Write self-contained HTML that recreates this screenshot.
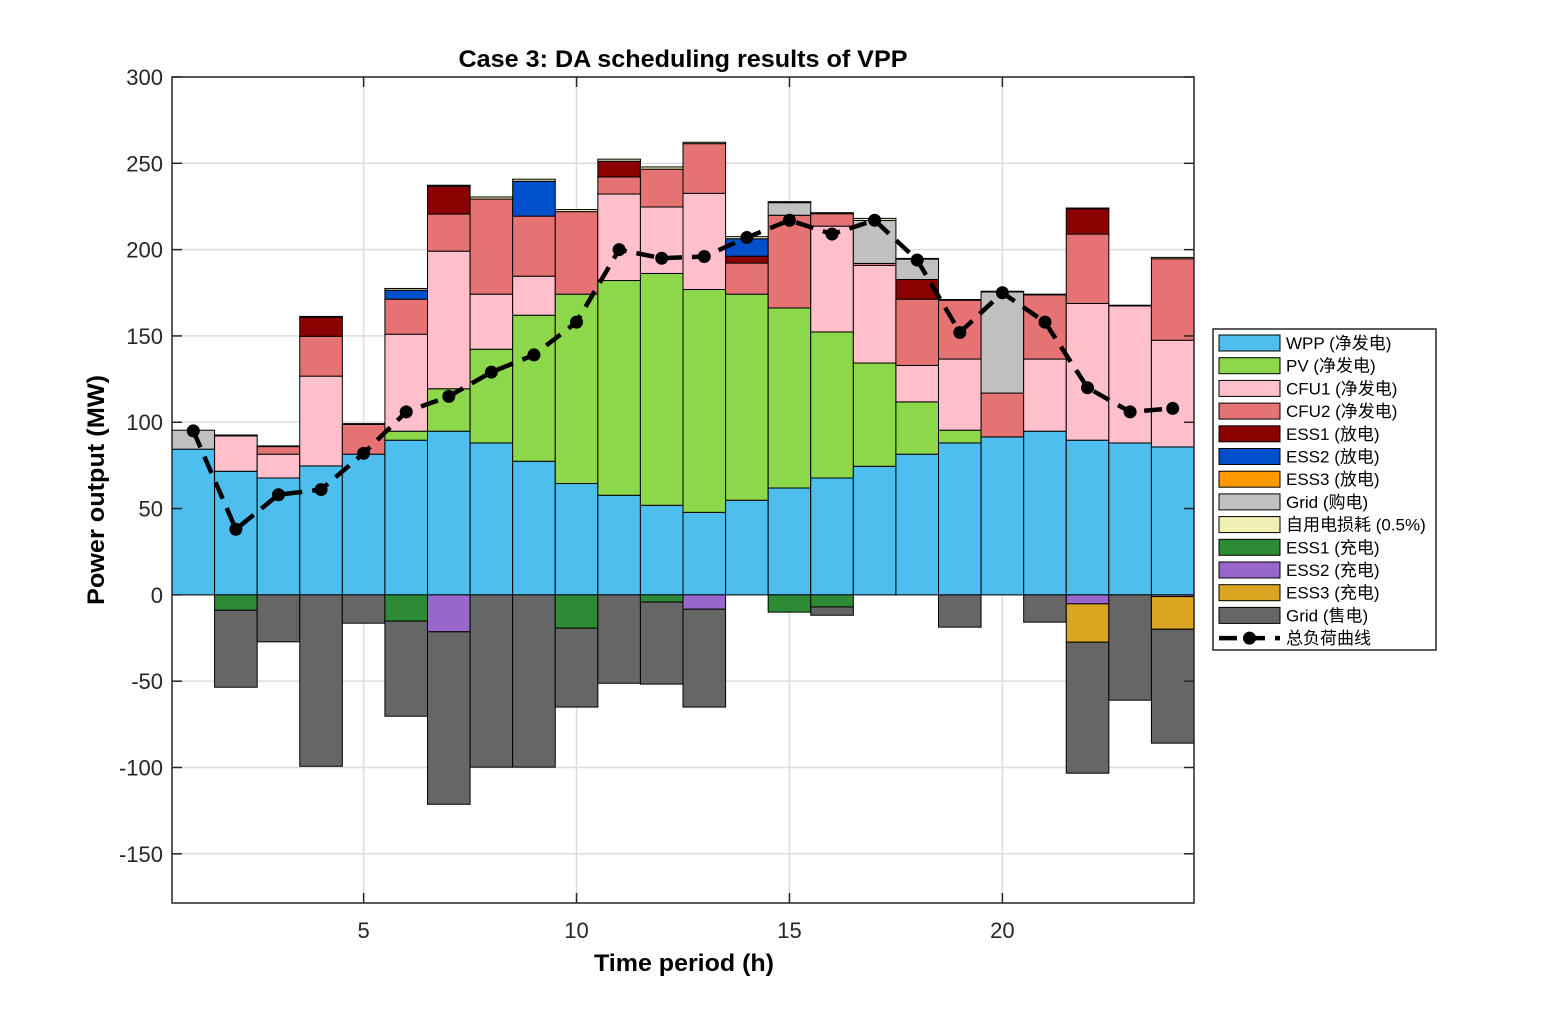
<!DOCTYPE html>
<html><head><meta charset="utf-8">
<style>
html,body{margin:0;padding:0;background:#fff;}
svg{display:block;font-family:"Liberation Sans","Noto Sans CJK SC",sans-serif;}
</style></head>
<body>
<svg id="chart" width="1563" height="1016" viewBox="0 0 1563 1016" xmlns="http://www.w3.org/2000/svg">
<rect x="0" y="0" width="1563" height="1016" fill="#fff"/>
<g id="grid"></g>
<g id="bars"></g>
<g id="line"></g>
<g id="axes"></g>
<text x="683" y="67" text-anchor="middle" font-size="24" font-weight="bold" textLength="449" lengthAdjust="spacingAndGlyphs">Case 3: DA scheduling results of VPP</text>
<text x="684" y="971" text-anchor="middle" font-size="24" font-weight="bold" textLength="180" lengthAdjust="spacingAndGlyphs">Time period (h)</text>
<text transform="translate(104,490) rotate(-90)" text-anchor="middle" font-size="24" font-weight="bold" textLength="230" lengthAdjust="spacingAndGlyphs">Power output (MW)</text>
<g id="legend"></g>
</svg>
<script>
const hours = [1,2,3,4,5,6,7,8,9,10,11,12,13,14,15,16,17,18,19,20,21,22,23,24];
const wpp   = [84.4,71.6,67.7,74.7,81.5,89.6,94.8,88,77.4,64.5,57.7,51.9,47.8,54.8,61.9,67.7,74.5,81.5,88,91.5,94.8,89.6,88,85.7];
const pv    = [0,0,0,0,0,5.2,24.6,54.3,84.6,109.7,124.4,134.3,129.1,119.4,104.3,84.6,59.8,30.3,7.4,0,0,0,0,0];
const cfu1  = [0,20.5,13.8,52,0,56.2,79.7,31.9,22.6,0,50.1,38.5,55.7,0,0,61.3,56.5,21.1,41.2,0,41.8,79.2,79.4,61.8];
const cfu2  = [0,0,4.4,23.1,17.2,20.3,21.5,55.1,34.8,47.8,9.9,21.9,28.8,18,53.7,7.2,1.2,38.4,34.1,25.4,37.2,40.2,0,47.2];
const ess1d = [0,0,0,11,0,0,16.1,0,0,0,9.1,0,0,4,0,0,0,11.4,0,0,0,14.7,0,0];
const ess2d = [0,0,0,0,0,5.2,0,0,20.2,0,0,0,0,10.1,0,0,0,0,0,0,0,0,0,0];
const ess3d = [0,0,0,0,0,0,0,0,0,0,0,0,0,0,0,0,0,0,0,0,0,0,0,0];
const gridBuy = [11,0,0,0,0,0,0,0,0,0,0,0,0,0,7.3,0,24.9,11.8,0,58.6,0,0,0,0];
const selfUse = [0,0.5,0.4,0.5,0.5,1,0.6,1.2,1.2,1.2,1.2,1.3,0.8,1.2,0.6,0.6,1.2,0.4,0.4,0.4,0.4,0.4,0.4,0.8];
const ess1c = [0,-8.9,0,0,0,-15.2,0,0,0,-19.3,0,-4.2,0,0,-10,-7,0,0,0,0,0,0,0,0];
const ess2c = [0,0,0,0,0,0,-21.4,0,0,0,0,0,-8.3,0,0,0,0,0,0,0,0,-5.2,0,-1];
const ess3c = [0,0,0,0,0,0,0,0,0,0,0,0,0,0,0,0,0,0,0,0,0,-22.2,0,-18.9];
const gridSell = [0,-44.6,-27.2,-99.3,-16.4,-55.1,-99.9,-99.8,-99.8,-45.7,-51.2,-47.5,-56.7,0,0,-4.8,0,0,-18.7,0,-15.8,-75.9,-61,-66];
const load  = [95,38,58,61,82,106,115,129,139,158,200,195,196,207,217,209,217,194,152,175,158,120,106,108];
const yTicks = [-150,-100,-50,0,50,100,150,200,250,300];
const xTicks = [5,10,15,20];

const X0=172, X1=1194, XMIN=0.5, XMAX=24.5;
const YTOP=77, YBOT=903, VMAX=300, VMIN=-178.5;
function sx(v){return X0+(v-XMIN)*(X1-X0)/(XMAX-XMIN);}
function sy(v){return YTOP+(VMAX-v)*(YBOT-YTOP)/(VMAX-VMIN);}
const NS='http://www.w3.org/2000/svg';
function mk(tag,attrs,parent){const e=document.createElementNS(NS,tag);for(const k in attrs)e.setAttribute(k,attrs[k]);parent.appendChild(e);return e;}

const gGrid=document.getElementById('grid');
yTicks.forEach(t=>{const l=mk('line',{x1:X0,x2:X1,y1:sy(t),y2:sy(t),stroke:'#dcdcdc','stroke-width':1.5},gGrid);

});
xTicks.forEach(t=>{const l=mk('line',{x1:sx(t),x2:sx(t),y1:YTOP,y2:YBOT,stroke:'#dcdcdc','stroke-width':1.5},gGrid);

});

const posSeries=[[wpp,'#4DBEEE','wpp'],[pv,'#8CD84A','pv'],[cfu1,'#FFC0CB','cfu1'],[cfu2,'#E57373','cfu2'],[ess1d,'#8B0000','ess1-discharge'],[ess2d,'#0050CC','ess2-discharge'],[ess3d,'#FF9900','ess3-discharge'],[gridBuy,'#C0C0C0','grid-buy'],[selfUse,'#F0F0B4','self-use-loss']];
const negSeries=[[ess1c,'#2E8B35','ess1-charge'],[ess2c,'#9966CC','ess2-charge'],[ess3c,'#DAA520','ess3-charge'],[gridSell,'#666666','grid-sell']];
const gBars=document.getElementById('bars');
function drawStack(series){
  hours.forEach((h,i)=>{
    let base=0;
    series.forEach(([arr,col,name])=>{
      const v=arr[i]; if(!v) return;
      const top=base+v;
      const ya=sy(Math.max(base,top)), yb=sy(Math.min(base,top));
      const r=mk('rect',{x:sx(h-0.5),y:ya,width:sx(h+0.5)-sx(h-0.5),height:Math.max(yb-ya,0.5),fill:col,stroke:'#000','stroke-width':1},gBars);
      
      
      base=top;
    });
  });
}
drawStack(posSeries);
drawStack(negSeries);

const gLine=document.getElementById('line');
const pts=hours.map((h,i)=>sx(h)+','+sy(load[i])).join(' ');
const pl=mk('polyline',{points:pts,fill:'none',stroke:'#000','stroke-width':4.5,'stroke-dasharray':'18,10'},gLine);


hours.forEach((h,i)=>{const c=mk('circle',{cx:sx(h),cy:sy(load[i]),r:6.5,fill:'#000'},gLine);

});

const gAx=document.getElementById('axes');
mk('rect',{x:X0,y:YTOP,width:X1-X0,height:YBOT-YTOP,fill:'none',stroke:'#262626','stroke-width':1.5},gAx);
yTicks.forEach(t=>{
  mk('line',{x1:X0,x2:X0+10,y1:sy(t),y2:sy(t),stroke:'#262626','stroke-width':1.5},gAx);
  mk('line',{x1:X1-10,x2:X1,y1:sy(t),y2:sy(t),stroke:'#262626','stroke-width':1.5},gAx);
  const tx=mk('text',{x:X0-9,y:sy(t)+8,'text-anchor':'end','font-size':22,fill:'#262626'},gAx);
  tx.textContent=t;
  
  
});
xTicks.forEach(t=>{
  mk('line',{x1:sx(t),x2:sx(t),y1:YBOT-10,y2:YBOT,stroke:'#262626','stroke-width':1.5},gAx);
  mk('line',{x1:sx(t),x2:sx(t),y1:YTOP,y2:YTOP+10,stroke:'#262626','stroke-width':1.5},gAx);
  const tx=mk('text',{x:sx(t),y:YBOT+35,'text-anchor':'middle','font-size':22,fill:'#262626'},gAx);
  tx.textContent=t;
  
  
});

const legendLabels=['WPP (净发电)','PV (净发电)','CFU1 (净发电)','CFU2 (净发电)','ESS1 (放电)','ESS2 (放电)','ESS3 (放电)','Grid (购电)','自用电损耗 (0.5%)','ESS1 (充电)','ESS2 (充电)','ESS3 (充电)','Grid (售电)','总负荷曲线'];
const legendColors=['#4DBEEE','#8CD84A','#FFC0CB','#E57373','#8B0000','#0050CC','#FF9900','#C0C0C0','#F0F0B4','#2E8B35','#9966CC','#DAA520','#666666',null];
const gLeg=document.getElementById('legend');
mk('rect',{x:1213,y:329,width:223,height:321,fill:'#fff',stroke:'#262626','stroke-width':1.5},gLeg);
legendLabels.forEach((lab,i)=>{
  const cy=343+i*22.7;
  if(legendColors[i]){
    const s=mk('rect',{x:1219,y:cy-8,width:61,height:16,fill:legendColors[i],stroke:'#000','stroke-width':1},gLeg);
    
    
  } else {
    mk('line',{x1:1219,x2:1280,y1:cy,y2:cy,stroke:'#000','stroke-width':4.5,'stroke-dasharray':'18,10'},gLeg);
    mk('circle',{cx:1249.5,cy:cy,r:6.5,fill:'#000'},gLeg);
  }
  const t=mk('text',{x:1286,y:cy+6,'font-size':17,fill:'#000'},gLeg);
  t.textContent=lab;
  
  
});
</script>
</body></html>
